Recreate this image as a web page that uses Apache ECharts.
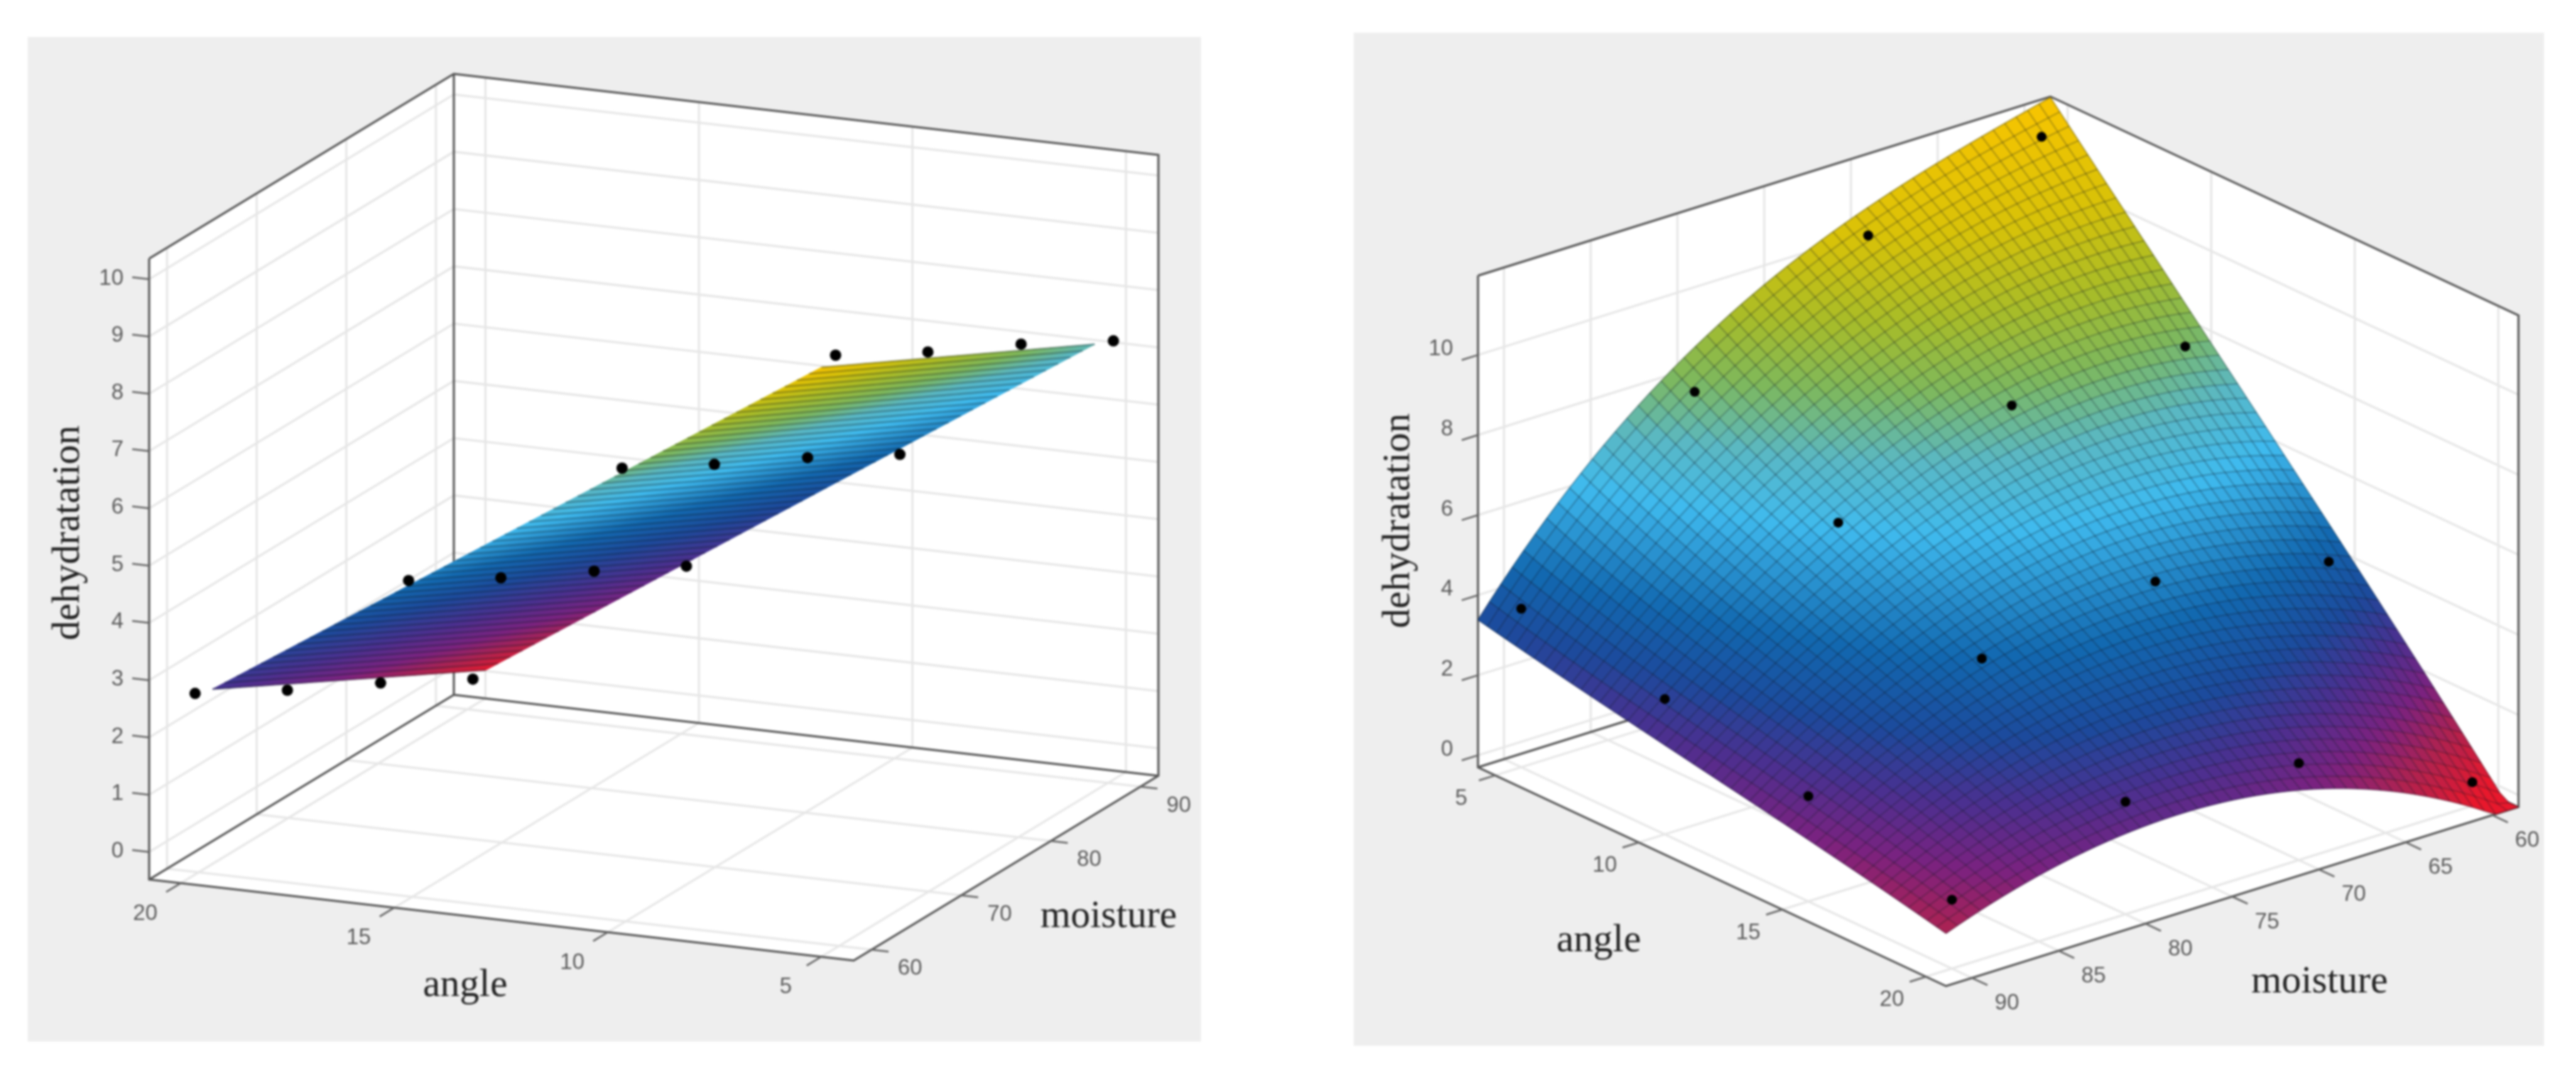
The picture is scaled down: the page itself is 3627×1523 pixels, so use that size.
<!DOCTYPE html>
<html><head><meta charset="utf-8">
<style>html,body{margin:0;padding:0;background:#fff}#main{width:3627px;height:1523px;filter:blur(1.5px)}</style>
<script src="https://cdn.jsdelivr.net/npm/echarts@6/dist/echarts.min.js"></script>
</head><body><div id="main"></div>
<script>
// ---------- values ----------
const angleLevels = [5, 10, 15, 20];
const leftMoistureLevels = [59.6, 69.9, 80.3, 90.6];
const rightMoistureLevels = [60, 70, 80, 90];

// measured points: one row per angle level (5,10,15,20), columns = moisture levels
const leftPoints = [
  [9.87, 8.95, 8.10, 7.18],
  [7.47, 6.56, 5.69, 4.77],
  [5.08, 4.15, 3.28, 2.39],
  [2.68, 1.76, 0.90, -0.01]
];
const rightPoints = [
  [11.38, 10.27, 7.72, 3.66],
  [7.82, 7.70, 6.13, 3.08],
  [4.12, 4.98, 4.41, 2.33],
  [0.29, 2.12, 2.51, 1.42]
];

// fitted surfaces as read at their nodes
const leftSurfaceAngles = [5.5, 19.76];
const leftSurfaceMoistures = [60.4, 90.9];
const leftSurface = [
  [9.54, 7.05],
  [2.70, 0.14]
];
const rightSurfaceAngles = [5, 10, 15, 20];
const rightSurfaceMoistures = [60, 70, 80, 90];
const rightSurface = [
  [11.38, 10.20, 7.95, 4.05],
  [7.82, 7.70, 6.05, 3.10],
  [4.12, 4.98, 4.35, 2.30],
  [0.29, 2.12, 2.45, 1.40]
];

const leftAngleTicks = [20, 15, 10, 5];
const leftMoistureTicks = [60, 70, 80, 90];
const leftZTicks = [0,1,2,3,4,5,6,7,8,9,10];
const rightAngleTicks = [5, 10, 15, 20];
const rightMoistureTicks = [60, 65, 70, 75, 80, 85, 90];
const rightZTicks = [0,2,4,6,8,10];

const paletteColors = ['#e8182c','#b0224f','#7a2280','#4a3090','#1c4a9c','#1268b0','#3fbaee','#5ab8c4','#7eb85c','#a8bc28','#d8c208','#f8c400'];
const leftPaletteZ  = [0.1,0.8,1.6,2.6,3.8,4.8,6.1,6.9,7.6,8.3,9.0,9.6];
const rightPaletteZ = [0.1,1.0,1.8,2.6,3.4,4.4,6.0,7.0,8.0,9.0,10.2,11.9];

const axisNames = {x:'angle', y:'moisture', z:'dehydratation'};

// ---------- the two orthographic views (axis box → plot units) ----------
const views = [
 { panel:[39,52,1691,1466],
   a:[20.74,4.24], m:[58,92], z:[-0.48,10.36],
   origin:[210,1238], aVec:[992,114], mVec:[429,-260], zVec:[0,-874],
   zTickDir:'a', zLabelX:174, zLabelDy:-1,
   aLabel:[-50,43], mLabel:[54,27],
   aTicks:leftAngleTicks, mTicks:leftMoistureTicks, zTicks:leftZTicks,
   points:leftPoints, pointM:leftMoistureLevels, pointR:8,
   surfA:leftSurfaceAngles, surfM:leftSurfaceMoistures, surf:leftSurface,
   meshRange:{a:[5.5,19.76], m:[60.4,90.9]}, palette:leftPaletteZ,
   stripeA:{w:3,o:0.28}, stripeM:null,
   titles:{z:[97,750], x:[655,1388], y:[1561,1291]} },
 { panel:[1906,46,3582,1472],
   a:[4.4,20.7], m:[91.5,58.5], z:[-0.3,11.98],
   origin:[2081,1080], aVec:[659,308], mVec:[806,-252], zVec:[0,-692],
   zTickDir:'m', zLabelX:2046, zLabelDy:-8,
   aLabel:[-48,33], mLabel:[49,36],
   aTicks:rightAngleTicks, mTicks:rightMoistureTicks, zTicks:rightZTicks,
   points:rightPoints, pointM:rightMoistureLevels, pointR:7,
   surfA:rightSurfaceAngles, surfM:rightSurfaceMoistures, surf:rightSurface,
   meshRange:{a:[4.4,20.7], m:[58.5,91.5]}, palette:rightPaletteZ,
   stripeA:{w:2,o:0.27}, stripeM:{w:2,o:0.27},
   titles:{z:[1970,733], x:[2251,1325], y:[3266,1383]} }
];
const MESH = 50;

// ---------- helpers ----------
function project(v,a,m,z){
  const ta=(a-v.a[0])/(v.a[1]-v.a[0]), tm=(m-v.m[0])/(v.m[1]-v.m[0]), tz=(z-v.z[0])/(v.z[1]-v.z[0]);
  return [v.origin[0]+ta*v.aVec[0]+tm*v.mVec[0]+tz*v.zVec[0],
          v.origin[1]+ta*v.aVec[1]+tm*v.mVec[1]+tz*v.zVec[1]];
}
function lagrange(nodes,x){
  return nodes.map((n,i)=>{let w=1;nodes.forEach((o,j)=>{if(j!==i)w*=(x-o)/(n-o)});return w});
}
function surfaceZ(v,a,m){
  const wa=lagrange(v.surfA,a), wm=lagrange(v.surfM,m);
  let s=0;
  wa.forEach((p,i)=>wm.forEach((q,j)=>{s+=p*q*v.surf[i][j]}));
  return Math.max(s,v.z[0]);
}
function hexRgb(h){return [1,3,5].map(i=>parseInt(h.substr(i,2),16))}
function colorAt(v,z){
  const s=v.palette; if(z<=s[0])return paletteColors[0];
  for(let i=1;i<s.length;i++) if(z<=s[i]){
    const t=(z-s[i-1])/(s[i]-s[i-1]), c0=hexRgb(paletteColors[i-1]), c1=hexRgb(paletteColors[i]);
    return 'rgb('+c0.map((c,k)=>Math.round(c+(c1[k]-c)*t)).join(',')+')';
  }
  return paletteColors[paletteColors.length-1];
}
let zOrder=1;
function layer(items,render){
  return {type:'custom',coordinateSystem:'cartesian2d',silent:true,animation:false,clip:false,progressive:0,z:zOrder++,
    data:items.map((_,i)=>[i,0]),
    renderItem:(p,api)=>render(items[p.dataIndex],pt=>api.coord(pt))};
}
const polyline=(pts,coord,stroke,w,o)=>({type:'polyline',shape:{points:pts.map(coord)},style:{stroke,lineWidth:w,fill:null,opacity:o===undefined?1:o}});
const textEl=(txt,p,coord,font,fill,align,rotation)=>{const c=coord(p);return {type:'text',x:c[0],y:c[1],rotation:rotation||0,
  style:{text:txt,font,fill,align:align||'center',verticalAlign:'middle',textAlign:align||'center',textVerticalAlign:'middle'}}};

const series=[];
const GRID='#e6e6e6', BOX='#555555', TICK='#666666', LABEL='#5a5a5a', TITLE='#222222';
const tickFont='31px "Liberation Sans"', titleFont='55px "Liberation Serif"';

views.forEach(v=>{
  const [a0,a1]=v.a,[m0,m1]=v.m,[zB,zT]=v.z;
  // panel
  series.push(layer([v.panel],(r,coord)=>({type:'polygon',shape:{points:[[r[0],r[1]],[r[2],r[1]],[r[2],r[3]],[r[0],r[3]]].map(coord)},style:{fill:'#eeeeee'}})));
  // walls and floor
  const walls=[[[a0,m0,zB],[a1,m0,zB],[a1,m1,zB],[a0,m1,zB]],
               [[a0,m0,zB],[a0,m1,zB],[a0,m1,zT],[a0,m0,zT]],
               [[a0,m1,zB],[a1,m1,zB],[a1,m1,zT],[a0,m1,zT]]];
  series.push(layer(walls,(w,coord)=>({type:'polygon',shape:{points:w.map(q=>coord(project(v,q[0],q[1],q[2])))},style:{fill:'#ffffff'}})));
  // grid lines
  const grid=[];
  v.aTicks.forEach(t=>{grid.push([[t,m0,zB],[t,m1,zB],[t,m1,zT]])});
  v.mTicks.forEach(t=>{grid.push([[a1,t,zB],[a0,t,zB],[a0,t,zT]])});
  v.zTicks.forEach(t=>{grid.push([[a0,m0,t],[a0,m1,t],[a1,m1,t]])});
  series.push(layer(grid,(g,coord)=>polyline(g.map(q=>project(v,q[0],q[1],q[2])),coord,GRID,3)));
  // box
  const box=[[[a0,m0,zT],[a0,m1,zT],[a1,m1,zT],[a1,m1,zB],[a1,m0,zB],[a0,m0,zB],[a0,m0,zT]],
             [[a0,m0,zB],[a0,m1,zB],[a1,m1,zB]],
             [[a0,m1,zB],[a0,m1,zT]]];
  series.push(layer(box,(g,coord)=>polyline(g.map(q=>project(v,q[0],q[1],q[2])),coord,BOX,3)));
  // ticks
  const unit=(d)=>{const l=Math.hypot(d[0],d[1]);return [d[0]/l,d[1]/l]};
  const ua=unit(v.aVec), um=unit(v.mVec), TL=24;
  const ticks=[];
  v.aTicks.forEach(t=>{const s=project(v,t,m0,zB);ticks.push([s,[s[0]-um[0]*TL,s[1]-um[1]*TL]])});
  v.mTicks.forEach(t=>{const s=project(v,a1,t,zB);ticks.push([s,[s[0]+ua[0]*TL,s[1]+ua[1]*TL]])});
  const zd=v.zTickDir==='a'?ua:um;
  v.zTicks.forEach(t=>{const s=project(v,a0,m0,t);ticks.push([s,[s[0]-zd[0]*TL,s[1]-zd[1]*TL]])});
  series.push(layer(ticks,(g,coord)=>polyline(g,coord,TICK,2.5)));
  // surface cells, far to near
  const [sa0,sa1]=v.meshRange.a,[sm0,sm1]=v.meshRange.m;
  const A=i=>v.a[0]<v.a[1]?sa0+(sa1-sa0)*i/MESH:sa1-(sa1-sa0)*i/MESH;
  const M=j=>v.m[0]<v.m[1]?sm1-(sm1-sm0)*j/MESH:sm0+(sm1-sm0)*j/MESH;
  const cells=[];
  for(let i=0;i<MESH;i++)for(let j=0;j<MESH;j++)cells.push([i,j]);
  series.push(layer(cells,(c,coord)=>{
    const [i,j]=c;
    const q=[[i,j],[i+1,j],[i+1,j+1],[i,j+1]].map(k=>{const a=A(k[0]),m=M(k[1]);return coord(project(v,a,m,surfaceZ(v,a,m)))});
    const col=colorAt(v,surfaceZ(v,A(i+.5),M(j+.5)));
    return {type:'polygon',shape:{points:q},style:{fill:col,stroke:col,lineWidth:1}};
  }));
  // mesh lines
  const meshLines=[];
  const steps=Array.from({length:MESH+1},(_,k)=>k);
  if(v.stripeA) steps.forEach(i=>meshLines.push({s:v.stripeA,p:steps.map(j=>[A(i),M(j)])}));
  if(v.stripeM) steps.forEach(j=>meshLines.push({s:v.stripeM,p:steps.map(i=>[A(i),M(j)])}));
  series.push(layer(meshLines,(l,coord)=>polyline(l.p.map(q=>project(v,q[0],q[1],surfaceZ(v,q[0],q[1]))),coord,'#101820',l.s.w,l.s.o)));
  // measured points
  const pts=[];
  angleLevels.forEach((a,i)=>v.pointM.forEach((m,j)=>pts.push([a,m,v.points[i][j]])));
  series.push(layer(pts,(q,coord)=>{const c=coord(project(v,q[0],q[1],q[2]));return {type:'circle',shape:{cx:c[0],cy:c[1],r:v.pointR},style:{fill:'#000000'}}}));
  // labels
  const labels=[];
  v.aTicks.forEach(t=>{const s=project(v,t,m0,zB);labels.push([String(t),[s[0]+v.aLabel[0],s[1]+v.aLabel[1]],tickFont,LABEL,'center',0])});
  v.mTicks.forEach(t=>{const s=project(v,a1,t,zB);labels.push([String(t),[s[0]+v.mLabel[0],s[1]+v.mLabel[1]],tickFont,LABEL,'center',0])});
  v.zTicks.forEach(t=>{const s=project(v,a0,m0,t);labels.push([String(t),[v.zLabelX,s[1]+v.zLabelDy],tickFont,LABEL,'right',0])});
  labels.push([axisNames.z,v.titles.z,titleFont,TITLE,'center',Math.PI/2]);
  labels.push([axisNames.x,v.titles.x,titleFont,TITLE,'center',0]);
  labels.push([axisNames.y,v.titles.y,titleFont,TITLE,'center',0]);
  series.push(layer(labels,(l,coord)=>textEl(l[0],l[1],coord,l[2],l[3],l[4],l[5])));
});

const chart=echarts.init(document.getElementById('main'),null,{renderer:'canvas'});
chart.setOption({
  animation:false,
  backgroundColor:'#ffffff',
  grid:{left:0,right:0,top:0,bottom:0,containLabel:false},
  xAxis:{type:'value',min:0,max:3627,show:false},
  yAxis:{type:'value',min:0,max:1523,inverse:true,show:false},
  tooltip:{show:false},
  series
});
</script></body></html>
